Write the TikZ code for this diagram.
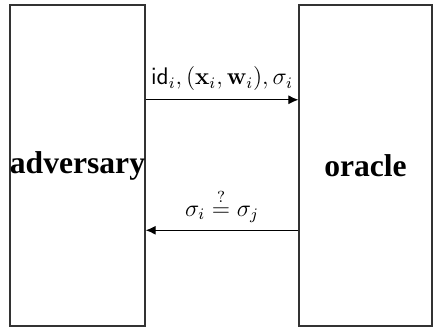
\documentclass[tikz,border=0pt]{standalone}
\usepackage{amsmath,amssymb}
\usepackage[no-math]{fontspec}
\setmainfont{Liberation Serif}
\usetikzlibrary{positioning,arrows.meta,calc}

\begin{document}
\begin{tikzpicture}[x=0.5pt,y=-0.5pt,every node/.style={font=\fontsize{12}{14}\selectfont}]
\useasboundingbox (0,0) rectangle (434,328);
\tikzset{party/.style={draw=black!80,line width=0.6pt,inner sep=0pt,minimum height=160.5pt,font=\fontsize{15.8}{18}\selectfont\bfseries},
  msg/.style={-{Latex[length=5pt,width=4.5pt]},line width=0.5pt}}
\node[party,minimum width=67.5pt] (adv) at (77.5,165.5) {adversary};
\node[party,minimum width=66.5pt] (orc) at (365.5,165.5) {oracle};
\coordinate (q1) at ($(adv.north east)!0.296!(adv.south east)$);
\coordinate (q2) at ($(orc.north west)!0.701!(orc.south west)$);
\draw[msg] (q1) -- (q1 -| orc.west) node[midway,above=1pt] {$\mathsf{id}_i, (\mathbf{x}_i, \mathbf{w}_i), \sigma_i$};
\draw[msg] (q2) -- (q2 -| adv.east) node[midway,above=0pt] {$\sigma_i \stackrel{?}{=} \sigma_j$};
\end{tikzpicture}
\end{document}
